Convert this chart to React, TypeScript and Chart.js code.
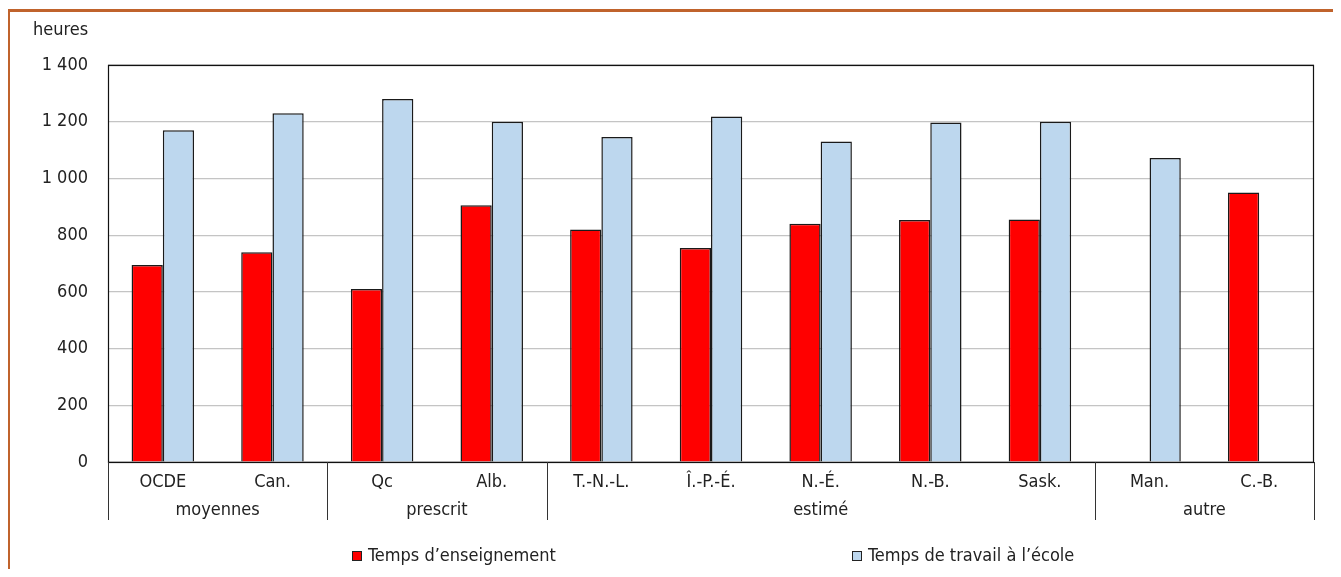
import React, { useEffect, useRef } from "react";
import { Chart, registerables } from "chart.js";

Chart.register(...registerables);

const categories = ["OCDE", "Can.", "Qc", "Alb.", "T.-N.-L.", "Î.-P.-É.", "N.-É.", "N.-B.", "Sask.", "Man.", "C.-B."];
const groupLabels = ["moyennes", "prescrit", "estimé", "autre"];
const groupSizes = [2, 2, 5, 2];
const teachingTime = [695, 740, 610, 905, 820, 755, 840, 853, 855, null, 950];
const workTime = [1170, 1230, 1280, 1200, 1146, 1218, 1130, 1197, 1200, 1072, null];
const seriesLabels = ["Temps d’enseignement", "Temps de travail à l’école"];
const yUnit = "heures";
const yMin = 0;
const yMax = 1400;
const yStep = 200;

const FONT = '"Liberation Sans Narrow", "DejaVu Sans Condensed", "Roboto", sans-serif';
const FS = 18;
const TEXT = "#222";

const fmt = (v: number) => {
  const s = String(Math.round(v));
  return s.replace(/\B(?=(\d{3})+(?!\d))/g, " ");
};

const decorPlugin = {
  id: "decor",
  afterDraw(chart: any) {
    const { ctx, chartArea } = chart;
    const x = chart.scales.x;
    const { left, right, top, bottom } = chartArea;
    ctx.save();
    // frame
    ctx.strokeStyle = "#111";
    ctx.lineWidth = 1.2;
    ctx.strokeRect(left + 0.5, top + 0.5, right - left - 1, bottom - top);
    // group separators and labels
    let idx = 0;
    const bounds: number[] = [left];
    groupSizes.forEach((n) => {
      idx += n;
      if (idx >= categories.length) bounds.push(right);
      else bounds.push((x.getPixelForValue(idx - 1) + x.getPixelForValue(idx)) / 2);
    });
    ctx.strokeStyle = "#333";
    ctx.lineWidth = 1;
    bounds.forEach((bx) => {
      const px = Math.round(bx) + 0.5;
      ctx.beginPath();
      ctx.moveTo(px, bottom);
      ctx.lineTo(px, bottom + 58);
      ctx.stroke();
    });
    ctx.fillStyle = TEXT;
    ctx.font = `${FS}px ${FONT}`;
    ctx.textAlign = "center";
    ctx.textBaseline = "middle";
    groupLabels.forEach((g, i) => {
      ctx.fillText(g, (bounds[i] + bounds[i + 1]) / 2, bottom + 48);
    });
    // unit label
    ctx.textAlign = "left";
    ctx.fillText(yUnit, 25, 22);
    // legend
    const ds = chart.data.datasets;
    const legendX = [344, 844];
    const ly = 548;
    ds.forEach((d: any, i: number) => {
      ctx.fillStyle = d.backgroundColor;
      ctx.fillRect(legendX[i], ly - 5, 10, 10);
      ctx.strokeStyle = "#222";
      ctx.lineWidth = 1;
      ctx.strokeRect(legendX[i] + 0.5, ly - 4.5, 9, 9);
      ctx.fillStyle = TEXT;
      ctx.textAlign = "left";
      ctx.fillText(d.label, legendX[i] + 16, ly);
    });
    ctx.restore();
  },
};

export default function App() {
  const ref = useRef<HTMLCanvasElement>(null);
  useEffect(() => {
    if (!ref.current) return;
    const chart = new Chart(ref.current, {
      type: "bar",
      data: {
        labels: categories,
        datasets: [
          {
            label: seriesLabels[0],
            data: teachingTime,
            backgroundColor: "#FF0000",
            borderColor: "#1a1a1a",
            borderWidth: 1.5,
            categoryPercentage: 0.57,
            barPercentage: 1,
          },
          {
            label: seriesLabels[1],
            data: workTime,
            backgroundColor: "#BDD7EE",
            borderColor: "#1a1a1a",
            borderWidth: 1.5,
            categoryPercentage: 0.57,
            barPercentage: 1,
          },
        ],
      },
      options: {
        responsive: false,
        animation: false,
        layout: { padding: { left: 0, top: 57, right: 27, bottom: 0 } },
        plugins: { legend: { display: false }, tooltip: { enabled: false } },
        scales: {
          x: {
            grid: { display: false },
            border: { display: false },
            ticks: { color: TEXT, font: { family: FONT, size: FS }, padding: 2, maxRotation: 0, autoSkip: false },
            afterFit: (s: any) => {
              s.height = 107;
            },
          },
          y: {
            min: yMin,
            max: yMax,
            grid: { color: "#C4C4C4", lineWidth: 1.2, drawTicks: false },
            border: { display: false },
            ticks: {
              stepSize: yStep,
              color: TEXT,
              font: { family: FONT, size: FS },
              padding: 20,
              callback: (v: any) => fmt(Number(v)),
            },
            afterFit: (s: any) => {
              s.width = 100;
            },
          },
        },
      },
      plugins: [decorPlugin],
    });
    return () => chart.destroy();
  }, []);
  return (
    <div style={{ position: "relative", width: 1333, height: 561 }}>
      <div
        style={{
          position: "absolute",
          left: -1,
          top: 1,
          width: 1334,
          height: 568,
          boxSizing: "border-box",
          borderTop: "3px solid #C0632C",
          borderLeft: "3px solid #C0632C",
          borderRight: "3px solid #C0632C",
        }}
      />
      <canvas ref={ref} width={1333} height={561} style={{ position: "absolute", left: 0, top: 0 }} />
    </div>
  );
}
